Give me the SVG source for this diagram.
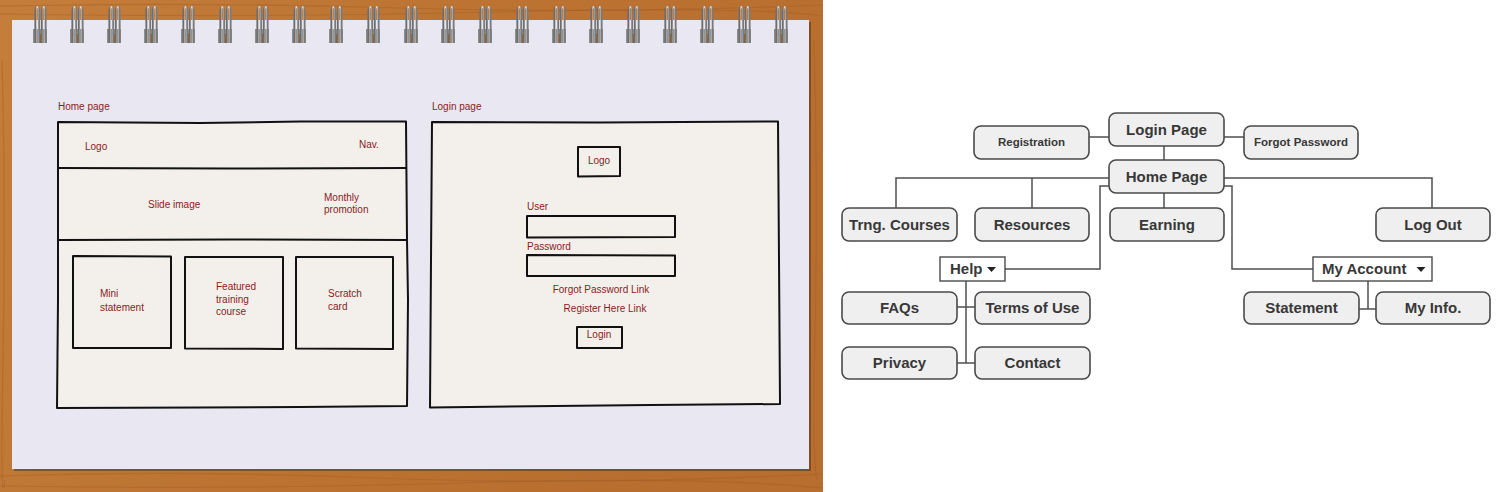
<svg xmlns="http://www.w3.org/2000/svg" width="1500" height="492" viewBox="0 0 1500 492">
<defs>
<style>
.hand{font-family:"Liberation Sans",Arial,sans-serif;font-size:10px;fill:#8a1c1c}
.sk{fill:#f3f0eb;stroke:#111;stroke-width:2;stroke-linejoin:round}
.node rect.n{fill:#efefef;stroke:#4a4a4a;stroke-width:1.6}
.node rect.m{fill:#ffffff;stroke:#4a4a4a;stroke-width:1.4}
.lbl{font-family:"Liberation Sans",Arial,sans-serif;font-weight:bold;fill:#383838;text-anchor:middle}
.big{font-size:15px}
.sm{font-size:11.5px}
.con path{fill:none;stroke:#4f4f4f;stroke-width:1.5}
</style>
<linearGradient id="wood" x1="0" y1="0" x2="1" y2="0.3">
<stop offset="0" stop-color="#c47d3b"/>
<stop offset="0.5" stop-color="#bd7433"/>
<stop offset="1" stop-color="#b86e2e"/>
</linearGradient>
<linearGradient id="wire" x1="0" y1="0" x2="1" y2="0">
<stop offset="0" stop-color="#6d6d6d"/>
<stop offset="0.5" stop-color="#e6e6e6"/>
<stop offset="1" stop-color="#7a7a7a"/>
</linearGradient>
<g id="ring">
<rect x="-7" y="29" width="14" height="14" fill="#8d8d8d"/>
<rect x="-2" y="34" width="3" height="9" fill="#a05a1c"/>
<path d="M-4.5,43 V12 Q-4.5,7 -2.5,7 Q-1,7 -1,12 V43" fill="none" stroke="url(#wire)" stroke-width="2.2"/>
<path d="M2,43 V12 Q2,7 4,7 Q5.5,7 5.5,12 V43" fill="none" stroke="url(#wire)" stroke-width="2.2"/>
</g>
</defs>
<rect width="1500" height="492" fill="#ffffff"/>
<g id="notebook">
<rect x="0" y="0" width="823" height="492" fill="url(#wood)"/>
<g fill="none" stroke="#9c5a22" stroke-opacity="0.35" stroke-width="1.2">
<path d="M0,6 Q200,2 400,8 T823,5"/>
<path d="M0,14 Q250,18 500,12 T823,16"/>
<path d="M0,476 Q180,470 380,478 T823,474"/>
<path d="M0,486 Q220,490 460,483 T823,488"/>
<path d="M2,60 Q6,200 3,360 T5,480"/>
<path d="M814,40 Q818,200 815,330 T817,480"/>
</g>
<rect x="14" y="22" width="797" height="449" fill="#000" fill-opacity="0.3"/>
<rect x="12" y="20" width="797" height="449" fill="#e9e7f2"/>
<use href="#ring" x="40"/><use href="#ring" x="77"/><use href="#ring" x="114"/><use href="#ring" x="151"/><use href="#ring" x="188"/><use href="#ring" x="225"/><use href="#ring" x="262"/><use href="#ring" x="299"/><use href="#ring" x="336"/><use href="#ring" x="373"/><use href="#ring" x="411"/><use href="#ring" x="448"/><use href="#ring" x="485"/><use href="#ring" x="522"/><use href="#ring" x="559"/><use href="#ring" x="596"/><use href="#ring" x="633"/><use href="#ring" x="670"/><use href="#ring" x="707"/><use href="#ring" x="744"/><use href="#ring" x="781"/>
</g>
<g id="homepage-sketch">
<text class="hand" x="58" y="110">Home page</text>
<path class="sk" d="M58,122 L200,123 L300,121.5 L406,121.5 L407,240 L408,300 L407,406 L300,407 L200,407.5 L57,408 L58,300 Z"/>
<path class="sk" fill="none" d="M58,168 L230,168.5 L406,168"/>
<path class="sk" fill="none" d="M59,240 L230,239.5 L407,240"/>
<path class="sk" d="M73,256 L171,256.5 L171,348 L73,348 Z"/>
<path class="sk" d="M185,257 L283,257 L283,349 L185,348.5 Z"/>
<path class="sk" d="M296,257 L393,257 L393,349 L296,348.5 Z"/>
<text class="hand" x="85" y="150">Logo</text>
<text class="hand" x="359" y="148">Nav.</text>
<text class="hand" x="148" y="208">Slide image</text>
<text class="hand" x="324" y="201">Monthly</text>
<text class="hand" x="324" y="213">promotion</text>
<text class="hand" x="100" y="297">Mini</text>
<text class="hand" x="100" y="311">statement</text>
<text class="hand" x="216" y="290">Featured</text>
<text class="hand" x="216" y="303">training</text>
<text class="hand" x="216" y="315">course</text>
<text class="hand" x="328" y="297">Scratch</text>
<text class="hand" x="328" y="310">card</text>
</g>
<g id="loginpage-sketch">
<text class="hand" x="432" y="110">Login page</text>
<path class="sk" d="M432,122 L600,122.5 L778,121.5 L779,260 L780,404 L650,405 L430,407.5 L431,260 Z"/>
<path class="sk" d="M578,147 L620,147 L620,176 L578,176.5 Z"/>
<text class="hand" x="599" y="164" text-anchor="middle">Logo</text>
<text class="hand" x="527" y="210">User</text>
<path class="sk" d="M527,216 L675,216 L675,237 L527,237.5 Z"/>
<text class="hand" x="527" y="250">Password</text>
<path class="sk" d="M527,255 L675,255.5 L675,276 L527,276 Z"/>
<text class="hand" x="601" y="293" text-anchor="middle">Forgot Password Link</text>
<text class="hand" x="605" y="312" text-anchor="middle">Register Here Link</text>
<path class="sk" d="M577,327 L622,327 L622,348 L577,348 Z"/>
<text class="hand" x="599" y="338" text-anchor="middle">Login</text>
</g>
<g class="con" id="connectors">
<path d="M1089,137 H1109"/>
<path d="M1224,137 H1244"/>
<path d="M1164,146 V160"/>
<path d="M1109,178 H896 V208"/>
<path d="M1032,178 V208"/>
<path d="M1164,193 V208"/>
<path d="M1224,178 H1432 V208"/>
<path d="M1109,186 H1100 V269 H1005"/>
<path d="M1224,186 H1232 V269 H1313"/>
<path d="M966,281 V363"/>
<path d="M957,307 H975"/>
<path d="M957,363 H975"/>
<path d="M1368,281 V309"/>
<path d="M1359,309 H1376"/>
</g>
<g class="node" id="n-login"><rect class="n" x="1109" y="113" width="115" height="33" rx="7"/><text class="lbl big" x="1166.5" y="134.5">Login Page</text></g>
<g class="node" id="n-registration"><rect class="n" x="974" y="126" width="115" height="33" rx="7"/><text class="lbl sm" x="1031.5" y="146">Registration</text></g>
<g class="node" id="n-forgot"><rect class="n" x="1244" y="126" width="114" height="33" rx="7"/><text class="lbl sm" x="1301" y="146">Forgot Password</text></g>
<g class="node" id="n-home"><rect class="n" x="1109" y="160" width="115" height="33" rx="7"/><text class="lbl big" x="1166.5" y="181.5">Home Page</text></g>
<g class="node" id="n-trng"><rect class="n" x="842" y="208" width="115" height="33" rx="7"/><text class="lbl big" x="899.5" y="229.5">Trng. Courses</text></g>
<g class="node" id="n-resources"><rect class="n" x="975" y="208" width="114" height="33" rx="7"/><text class="lbl big" x="1032" y="229.5">Resources</text></g>
<g class="node" id="n-earning"><rect class="n" x="1110" y="208" width="114" height="33" rx="7"/><text class="lbl big" x="1167" y="229.5">Earning</text></g>
<g class="node" id="n-logout"><rect class="n" x="1376" y="208" width="114" height="33" rx="7"/><text class="lbl big" x="1433" y="229.5">Log Out</text></g>
<g class="node" id="n-help"><rect class="m" x="940" y="257" width="65" height="24"/><text class="lbl big" x="950" y="274" style="text-anchor:start">Help</text><path d="M987,267 H996 L991.5,272 Z" fill="#222"/></g>
<g class="node" id="n-myaccount"><rect class="m" x="1313" y="257" width="119" height="24"/><text class="lbl big" x="1322" y="274" style="text-anchor:start">My Account</text><path d="M1416.5,267 H1425.5 L1421,272 Z" fill="#222"/></g>
<g class="node" id="n-faqs"><rect class="n" x="842" y="292" width="115" height="32" rx="7"/><text class="lbl big" x="899.5" y="313">FAQs</text></g>
<g class="node" id="n-terms"><rect class="n" x="975" y="292" width="115" height="32" rx="7"/><text class="lbl big" x="1032.5" y="313">Terms of Use</text></g>
<g class="node" id="n-privacy"><rect class="n" x="842" y="347" width="115" height="32" rx="7"/><text class="lbl big" x="899.5" y="368">Privacy</text></g>
<g class="node" id="n-contact"><rect class="n" x="975" y="347" width="115" height="32" rx="7"/><text class="lbl big" x="1032.5" y="368">Contact</text></g>
<g class="node" id="n-statement"><rect class="n" x="1244" y="292" width="115" height="32" rx="7"/><text class="lbl big" x="1301.5" y="313">Statement</text></g>
<g class="node" id="n-myinfo"><rect class="n" x="1376" y="292" width="114" height="32" rx="7"/><text class="lbl big" x="1433" y="313">My Info.</text></g>
</svg>
